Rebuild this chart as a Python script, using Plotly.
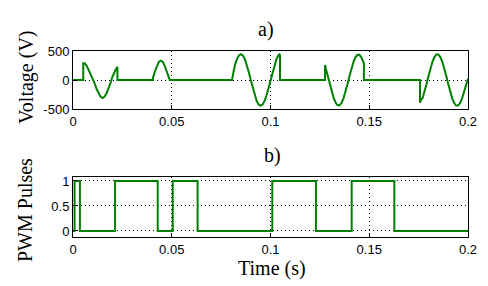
import plotly.graph_objects as go

# ---- Data ----
# a) Voltage waveform (time in s, voltage in V)
volt_t = [0.0, 0.0052, 0.0052, 0.006, 0.007, 0.008, 0.009, 0.010, 0.011, 0.012, 0.013, 0.014,
          0.015, 0.016, 0.017, 0.018, 0.019, 0.020, 0.021, 0.022, 0.0225, 0.0225,
          0.0405, 0.0405, 0.0415, 0.0425, 0.0435, 0.0445, 0.0455, 0.0465, 0.0475, 0.0485, 0.049,
          0.0805, 0.081, 0.082, 0.083, 0.084, 0.085, 0.086, 0.087, 0.088, 0.089, 0.090,
          0.091, 0.092, 0.093, 0.094, 0.095, 0.096, 0.097, 0.098, 0.099, 0.100,
          0.101, 0.102, 0.103, 0.104, 0.1045, 0.1048, 0.1048,
          0.1276, 0.1276, 0.128, 0.129, 0.130, 0.131, 0.132, 0.133, 0.134, 0.135, 0.136,
          0.137, 0.138, 0.139, 0.140, 0.141, 0.142, 0.143, 0.144, 0.145, 0.146, 0.147,
          0.1473, 0.1473,
          0.1757, 0.1757, 0.1762, 0.177, 0.178, 0.179, 0.180, 0.181, 0.182, 0.183, 0.184,
          0.185, 0.186, 0.187, 0.188, 0.189, 0.190, 0.191, 0.192, 0.193, 0.194, 0.195,
          0.196, 0.197, 0.198, 0.199, 0.200]
volt_v = [0, 0, 290, 285, 240, 170, 100, 30, -60, -160, -240, -290,
          -310, -285, -230, -150, -50, 60, 140, 205, 225, 0,
          0, 40, 150, 250, 315, 335, 310, 240, 150, 50, 0,
          0, 100, 262, 360, 423, 445, 423, 360, 262, 138, 0,
          -138, -262, -360, -423, -440, -423, -360, -262, -138, 0,
          138, 262, 360, 423, 440, 430, 0,
          0, 260, 200, 70, -69, -200, -311, -392, -435, -435, -392,
          -311, -200, -69, 69, 200, 311, 392, 435, 435, 392, 311,
          283, 0,
          0, -390, -340, -315, -202, -70, 70, 202, 315, 396, 440,
          440, 396, 315, 202, 70, -70, -202, -315, -396, -440, -440,
          -396, -315, -202, -70, 20]

# b) PWM pulses (switching instants and level held from each instant)
pwm_t = [0.0, 0.0008, 0.0035, 0.0213, 0.0429, 0.0505, 0.0631, 0.1009, 0.1230, 0.1411, 0.1627, 0.2]
pwm_v = [0, 1, 0, 1, 0, 1, 0, 1, 0, 1, 0, 0]

x_ticks = [0, 0.05, 0.1, 0.15, 0.2]
x_tick_text = ["0", "0.05", "0.1", "0.15", "0.2"]
v_ticks = [-500, 0, 500]
v_tick_text = ["-500", "0", "500"]
p_ticks = [0, 0.5, 1]
p_tick_text = ["0", "0.5", "1"]

GREEN = "#008000"
SANS = "Liberation Sans, Arial, sans-serif"
SERIF = "Liberation Serif, Times New Roman, serif"

# The page body has an 8px default margin; the figure is sized to fit the window.
OFF = 8

fig = go.Figure()
fig.add_trace(go.Scatter(x=volt_t, y=volt_v, mode="lines",
                         line=dict(color=GREEN, width=2), xaxis="x", yaxis="y",
                         showlegend=False))
fig.add_trace(go.Scatter(x=pwm_t, y=pwm_v, mode="lines",
                         line=dict(color=GREEN, width=2, shape="hv"), xaxis="x2", yaxis="y2",
                         showlegend=False))

axis_common = dict(
    showline=True, mirror=True, linecolor="black", linewidth=1,
    ticks="inside", ticklen=4, tickcolor="black",
    showgrid=True, gridcolor="black", gridwidth=1, griddash="1px,3px",
    zeroline=False, tickfont=dict(family=SANS, size=13, color="black"),
)

L, R, T, B = 73 - OFF, 488 - 468, 51 - OFF, 286 - 237
fig.update_layout(
    width=488 - OFF, height=286 - OFF,
    margin=dict(l=L, r=R, t=T, b=B),
    paper_bgcolor="white", plot_bgcolor="white",
    xaxis=dict(domain=[0, 1], range=[0, 0.2], tickvals=x_ticks, ticktext=x_tick_text,
               anchor="y", **axis_common),
    yaxis=dict(domain=[0.688, 1], range=[-500, 500], tickvals=v_ticks, ticktext=v_tick_text,
               anchor="x", **axis_common),
    xaxis2=dict(domain=[0, 1], range=[0, 0.2], tickvals=x_ticks, ticktext=x_tick_text,
                anchor="y2", **axis_common),
    yaxis2=dict(domain=[0, 0.3226], range=[-0.12, 1.08], tickvals=p_ticks, ticktext=p_tick_text,
                anchor="x2", **axis_common),
)

def ann(text, x, y, angle=0, size=20):
    return dict(text=text, x=x, y=y, xref="paper", yref="paper", xanchor="center",
                yanchor="middle", showarrow=False, textangle=angle, borderpad=0,
                font=dict(family=SERIF, size=size, color="black"))

def px_to_paper(px, py):
    return (px - 73) / 395, (237 - py) / 186

annots = []
for text, px, py, ang in [("a)", 266, 29, 0), ("b)", 272, 155, 0),
                          ("Time (s)", 272, 268, 0),
                          ("Voltage (V)", 26, 77, -90), ("PWM Pulses", 25, 210, -90)]:
    x, y = px_to_paper(px, py)
    annots.append(ann(text, x, y, ang))
fig.update_layout(annotations=annots)

fig.write_html("out.html")
